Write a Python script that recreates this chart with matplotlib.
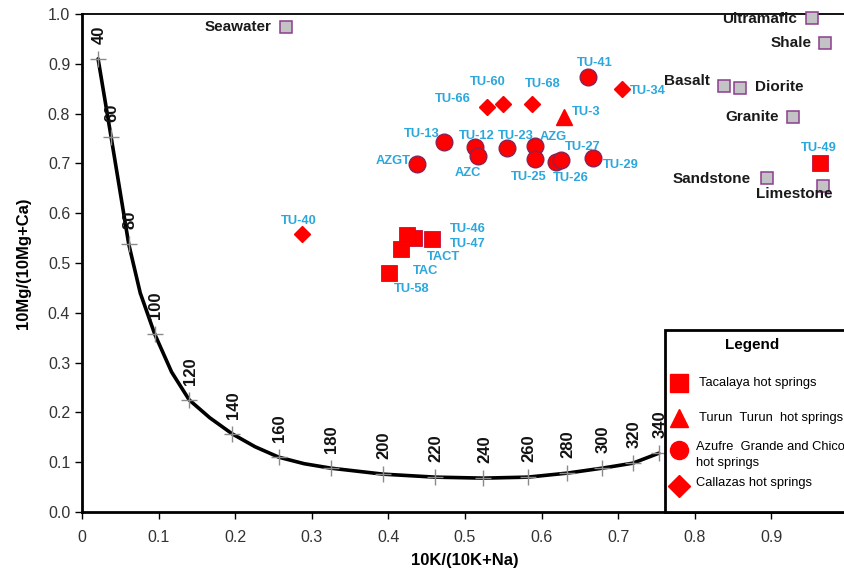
import matplotlib.pyplot as plt
from matplotlib.patches import Rectangle

plt.rcParams['font.family'] = ['Liberation Sans', 'DejaVu Sans']

# Full equilibrium curve
curve_x = [0.021, 0.038, 0.061, 0.076, 0.095, 0.117, 0.140, 0.167, 0.196, 0.226,
           0.257, 0.290, 0.325, 0.393, 0.461, 0.524, 0.582, 0.633, 0.679, 0.719, 0.753]
curve_y = [0.910, 0.753, 0.538, 0.440, 0.357, 0.281, 0.225, 0.189, 0.157, 0.131,
           0.110, 0.097, 0.088, 0.076, 0.070, 0.068, 0.070, 0.078, 0.088, 0.098, 0.118]

# Temperature marks (deg C) on the curve
temps = [40, 60, 80, 100, 120, 140, 160, 180, 200, 220, 240, 260, 280, 300, 320, 340]
temp_x = [0.021, 0.038, 0.061, 0.095, 0.140, 0.196, 0.257, 0.325, 0.393, 0.461,
          0.524, 0.582, 0.633, 0.679, 0.719, 0.753]
temp_y = [0.910, 0.753, 0.538, 0.357, 0.225, 0.157, 0.110, 0.088, 0.076, 0.070,
          0.068, 0.070, 0.078, 0.088, 0.098, 0.118]

# Tacalaya hot springs
tac_names = ['TU-46', 'TU-47', 'TACT', 'TAC', 'TU-58', 'TU-49']
tac_x = [0.457, 0.433, 0.424, 0.417, 0.401, 0.963]
tac_y = [0.548, 0.550, 0.556, 0.528, 0.480, 0.701]

# Turun Turun hot springs
tur_names = ['TU-3']
tur_x = [0.629]
tur_y = [0.793]

# Azufre Grande and Chico hot springs
azu_names = ['AZGT', 'TU-13', 'TU-12', 'AZC', 'TU-23', 'AZG', 'TU-25', 'TU-26',
             'TU-27', 'TU-29', 'TU-41']
azu_x = [0.437, 0.473, 0.513, 0.517, 0.555, 0.592, 0.592, 0.619, 0.625, 0.667, 0.661]
azu_y = [0.699, 0.743, 0.733, 0.715, 0.731, 0.735, 0.709, 0.703, 0.707, 0.711, 0.873]

# Callazas hot springs
cal_names = ['TU-40', 'TU-66', 'TU-60', 'TU-68', 'TU-34']
cal_x = [0.287, 0.529, 0.549, 0.588, 0.705]
cal_y = [0.558, 0.813, 0.819, 0.819, 0.849]

# Reference rocks and seawater
rock_names = ['Seawater', 'Ultramafic', 'Shale', 'Basalt', 'Diorite', 'Granite',
              'Sandstone', 'Limestone']
rock_x = [0.266, 0.953, 0.970, 0.838, 0.859, 0.928, 0.894, 0.967]
rock_y = [0.974, 0.992, 0.942, 0.855, 0.851, 0.793, 0.671, 0.655]

# label offsets in pixels (dx, dy)
label_offsets = {
    'AZGT': (-24, 3), 'TU-13': (-23, 8), 'TU-12': (2, 11), 'AZC': (-10, -17),
    'TU-23': (9, 12), 'AZG': (18, 9), 'TU-25': (-7, -18), 'TU-26': (15, -16),
    'TU-27': (22, 13), 'TU-29': (28, -7), 'TU-41': (6, 14),
    'TU-46': (36, 10), 'TU-47': (54, -6), 'TACT': (37, -22), 'TAC': (24, -22),
    'TU-58': (23, -16), 'TU-49': (-1, 15), 'TU-3': (22, 5),
    'TU-40': (-3, 13), 'TU-66': (-34, 8), 'TU-60': (-15, 22), 'TU-68': (10, 20),
    'TU-34': (26, -2),
    'Seawater': (-48, 0), 'Ultramafic': (-52, -1), 'Shale': (-34, 0),
    'Basalt': (-37, 5), 'Diorite': (39, 1), 'Granite': (-41, 0),
    'Sandstone': (-55, -1), 'Limestone': (-28, -8),
}

RED = '#ff0000'
CYAN = '#2aa7dc'
PURPLE = '#8b3d8f'

fig = plt.figure(figsize=(8.45, 5.68), dpi=100)
ax = fig.add_axes([82 / 845, 56 / 568, 766 / 845, 498 / 568])

# equilibrium curve with temperature ticks
ax.plot(curve_x, curve_y, color='black', lw=2.6, zorder=2, solid_capstyle='round')
ax.plot(temp_x, temp_y, '+', color='#8a8a8a', ms=11, mew=1.0, zorder=3)
for t, x, y in zip(temps, temp_x, temp_y):
    ax.annotate(str(t), (x, y), xytext=(1, 15), textcoords='offset pixels',
                rotation=90, ha='center', va='bottom', fontsize=12,
                fontweight='bold', color='#111111')

# sample groups
ax.plot(tac_x, tac_y, 's', color=RED, ms=11.5, mec='#c0103a', mew=0.6, zorder=4)
ax.plot(tur_x, tur_y, '^', color=RED, ms=11, mec=RED, zorder=4)
ax.plot(azu_x, azu_y, 'o', color=RED, ms=12, mec='#8b2252', mew=1.0, zorder=4)
ax.plot(cal_x, cal_y, 'D', color=RED, ms=8.5, mec=RED, zorder=4)
ax.plot(rock_x, rock_y, 's', color='#c3c3c6', ms=8, mec=PURPLE, mew=1.1, zorder=4,
        clip_on=False)

for names, xs, ys in [(tac_names, tac_x, tac_y), (tur_names, tur_x, tur_y),
                      (azu_names, azu_x, azu_y), (cal_names, cal_x, cal_y)]:
    for n, x, y in zip(names, xs, ys):
        ax.annotate(n, (x, y), xytext=label_offsets[n], textcoords='offset pixels',
                    ha='center', va='center', fontsize=9.3, fontweight='bold',
                    color=CYAN, zorder=5)

for n, x, y in zip(rock_names, rock_x, rock_y):
    ax.annotate(n, (x, y), xytext=label_offsets[n], textcoords='offset pixels',
                ha='center', va='center', fontsize=11, fontweight='bold',
                color='#1a1a1a', zorder=5)

# legend box
ax.add_patch(Rectangle((0.761, 0.0), 0.3, 0.365, facecolor='white',
                       edgecolor='black', lw=2, zorder=6, clip_on=False))
ax.text(0.875, 0.335, 'Legend', ha='center', va='center', fontsize=11,
        fontweight='bold', zorder=7)
lx, tx = 0.779, 0.805
ax.plot(lx, 0.259, 's', color=RED, ms=13, zorder=7)
ax.plot(lx, 0.189, '^', color=RED, ms=13, zorder=7)
ax.plot(lx, 0.125, 'o', color=RED, ms=13, zorder=7)
ax.plot(lx, 0.052, 'D', color=RED, ms=11, zorder=7)
ax.text(tx, 0.259, 'Tacalaya hot springs', va='center', fontsize=9.3, zorder=7)
ax.text(tx, 0.189, 'Turun  Turun  hot springs', va='center', fontsize=9.3, zorder=7)
ax.text(tx - 0.004, 0.131, 'Azufre  Grande and Chico', va='center', fontsize=9.3, zorder=7)
ax.text(tx - 0.004, 0.098, 'hot springs', va='center', fontsize=9.3, zorder=7)
ax.text(tx - 0.004, 0.058, 'Callazas hot springs', va='center', fontsize=9.3, zorder=7)

ax.set_xlim(0, 1.0)
ax.set_ylim(0, 1.0)
ax.set_xticks([0, 0.1, 0.2, 0.3, 0.4, 0.5, 0.6, 0.7, 0.8, 0.9])
ax.set_xticklabels(['0', '0.1', '0.2', '0.3', '0.4', '0.5', '0.6', '0.7', '0.8', '0.9'])
ax.set_yticks([0, 0.1, 0.2, 0.3, 0.4, 0.5, 0.6, 0.7, 0.8, 0.9, 1.0])
ax.set_yticklabels(['%.1f' % v for v in ax.get_yticks()])
ax.tick_params(direction='out', length=5, width=1, labelsize=11.5, labelcolor='#333333')
ax.tick_params(axis='x', pad=8)
ax.spines['left'].set_linewidth(2)
ax.spines['bottom'].set_linewidth(2)
ax.spines['top'].set_linewidth(1.3)
ax.spines['right'].set_visible(False)

ax.set_xlabel('10K/(10K+Na)', fontsize=12, fontweight='bold', labelpad=6)
ax.set_ylabel('10Mg/(10Mg+Ca)', fontsize=12, fontweight='bold', labelpad=12)

fig.savefig('out.png', dpi=100)
